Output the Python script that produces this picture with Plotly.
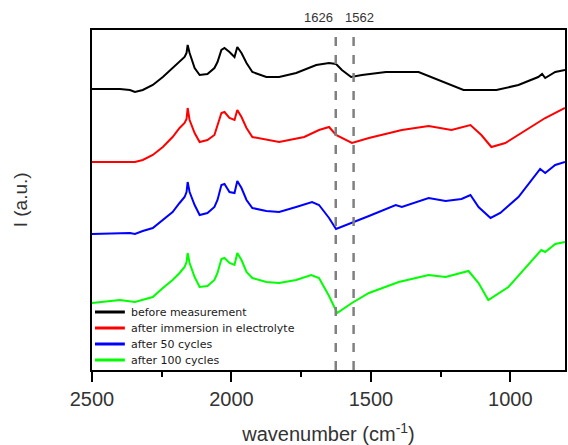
import plotly.graph_objects as go

# wavenumber (cm^-1) and intensity (a.u., offset for display)
wn_before = [2500, 2400, 2364, 2346, 2318, 2282, 2246, 2211, 2186, 2168, 2161, 2157, 2150, 2132, 2114, 2086, 2061, 2050, 2036, 2025, 2007, 1989, 1979, 1964, 1946, 1925, 1875, 1829, 1768, 1696, 1650, 1625, 1604, 1571, 1532, 1446, 1329, 1257, 1168, 1050, 971, 900, 886, 875, 839, 804]
i_before = [281, 281, 280, 278, 280, 285, 293, 302, 308, 313, 317, 325, 317, 302, 295, 296, 302, 308, 320, 322, 318, 313, 323, 317, 307, 298, 293, 293, 297, 305, 307, 306, 300, 293, 295, 298, 298, 290, 280, 280, 285, 293, 296, 292, 298, 300]

wn_immersion = [2500, 2346, 2318, 2282, 2246, 2211, 2186, 2168, 2161, 2157, 2150, 2132, 2114, 2086, 2061, 2050, 2036, 2025, 2007, 1989, 1979, 1964, 1946, 1925, 1875, 1829, 1739, 1686, 1650, 1625, 1568, 1507, 1389, 1293, 1211, 1168, 1143, 1104, 1068, 1018, 946, 875, 804]
i_immersion = [208, 208, 210, 215, 223, 233, 242, 247, 251, 262, 250, 237, 228, 230, 235, 245, 257, 258, 252, 250, 260, 253, 242, 233, 230, 228, 233, 240, 243, 235, 227, 232, 240, 244, 240, 243, 245, 235, 223, 227, 240, 252, 262]

wn_50 = [2500, 2364, 2346, 2318, 2282, 2246, 2211, 2186, 2168, 2161, 2157, 2150, 2132, 2114, 2086, 2061, 2050, 2036, 2025, 2007, 1989, 1979, 1964, 1946, 1925, 1875, 1829, 1768, 1711, 1686, 1650, 1625, 1568, 1507, 1411, 1389, 1293, 1232, 1175, 1143, 1114, 1071, 1036, 971, 893, 875, 839, 804]
i_50 = [136, 137, 136, 139, 142, 150, 158, 167, 173, 178, 188, 178, 165, 155, 157, 163, 170, 185, 186, 178, 177, 189, 182, 170, 162, 159, 158, 163, 168, 165, 152, 141, 147, 154, 165, 163, 172, 169, 171, 175, 163, 152, 157, 173, 201, 197, 205, 208]

wn_100 = [2500, 2400, 2346, 2282, 2246, 2211, 2186, 2168, 2161, 2157, 2150, 2132, 2114, 2086, 2061, 2050, 2036, 2025, 2007, 1989, 1979, 1964, 1946, 1925, 1875, 1829, 1768, 1714, 1686, 1650, 1621, 1568, 1507, 1400, 1293, 1232, 1150, 1114, 1079, 1007, 889, 875, 839, 804]
i_100 = [67, 70, 68, 73, 82, 90, 97, 103, 108, 117, 107, 93, 83, 84, 90, 97, 111, 112, 107, 105, 117, 110, 98, 92, 88, 87, 90, 95, 92, 74, 57, 67, 77, 88, 95, 93, 99, 87, 70, 83, 120, 118, 126, 128]

series_names = ["before measurement", "after immersion in electrolyte", "after 50 cycles", "after 100 cycles"]
series_colors = ["#000000", "#ff0000", "#0000ff", "#00ff00"]

marker_wn = [1626, 1562]
x_ticks = [2500, 2000, 1500, 1000]

PLOT_L, PLOT_T, PLOT_W, PLOT_H = 92, 30, 475, 340


def px_to_paper(px, py):
    return (px - PLOT_L) / PLOT_W, (PLOT_T + PLOT_H - py) / PLOT_H


fig = go.Figure()
for name, color, xs, ys in zip(series_names, series_colors,
                               [wn_before, wn_immersion, wn_50, wn_100],
                               [i_before, i_immersion, i_50, i_100]):
    fig.add_trace(go.Scatter(x=xs, y=ys, mode="lines", name=name, showlegend=False,
                             line=dict(color=color, width=2)))

for w in marker_wn:
    fig.add_shape(type="line", xref="x", yref="paper", x0=w, x1=w, y0=0, y1=1,
                  line=dict(color="#808080", width=2.5, dash="dash"), layer="above")

lab_font = dict(family="Liberation Sans, Arial", size=13, color="#333333")
fig.add_annotation(x=marker_wn[0], y=1, xref="x", yref="paper", text=str(marker_wn[0]),
                   showarrow=False, xanchor="right", yanchor="bottom", xshift=-1, yshift=3,
                   font=lab_font)
fig.add_annotation(x=marker_wn[1], y=1, xref="x", yref="paper", text=str(marker_wn[1]),
                   showarrow=False, xanchor="left", yanchor="bottom", xshift=-11, yshift=3,
                   font=lab_font)

# y-axis title
fig.add_annotation(x=-72 / PLOT_W, y=0.5, xref="paper", yref="paper", text="I (a.u.)",
                   showarrow=False, textangle=-90, xanchor="center", yanchor="middle",
                   font=dict(family="Liberation Sans, Arial", size=19, color="#333333"))

# legend (drawn inside the plot, lower-left)
for k, (name, color) in enumerate(zip(series_names, series_colors)):
    py = 312 + 16 * k
    x0, y0 = px_to_paper(95, py)
    x1, _ = px_to_paper(125, py)
    fig.add_shape(type="line", xref="paper", yref="paper", x0=x0, x1=x1, y0=y0, y1=y0,
                  line=dict(color=color, width=3))
    tx, ty = px_to_paper(129, py)
    fig.add_annotation(x=tx, y=ty, xref="paper", yref="paper", text=name, showarrow=False,
                       xanchor="left", yanchor="middle",
                       font=dict(family="DejaVu Sans, Verdana", size=11, color="#1a1a1a"))

fig.update_layout(
    width=568, height=445,
    margin=dict(l=PLOT_L, r=568 - PLOT_L - PLOT_W, t=PLOT_T, b=445 - PLOT_T - PLOT_H),
    paper_bgcolor="white", plot_bgcolor="white",
    font=dict(family="Liberation Sans, Arial", color="#333333"),
    showlegend=False,
    xaxis=dict(range=[2500, 804], tickvals=x_ticks, ticktext=[str(t) for t in x_ticks],
               ticks="outside", ticklen=10, tickwidth=2, tickcolor="#000000",
               minor=dict(ticks="outside", ticklen=5, tickwidth=2, tickcolor="#000000", dtick=250, tick0=0),
               showline=True, linecolor="#000000", linewidth=2, mirror=True,
               showgrid=False, zeroline=False,
               tickfont=dict(size=20, color="#333333"),
               title=dict(text="wavenumber (cm<sup>-1</sup>)", font=dict(size=20, color="#333333"), standoff=18)),
    yaxis=dict(range=[0, 340], showticklabels=False, ticks="",
               showline=True, linecolor="#000000", linewidth=2, mirror=True,
               showgrid=False, zeroline=False),
)

fig.write_html("out.html")
